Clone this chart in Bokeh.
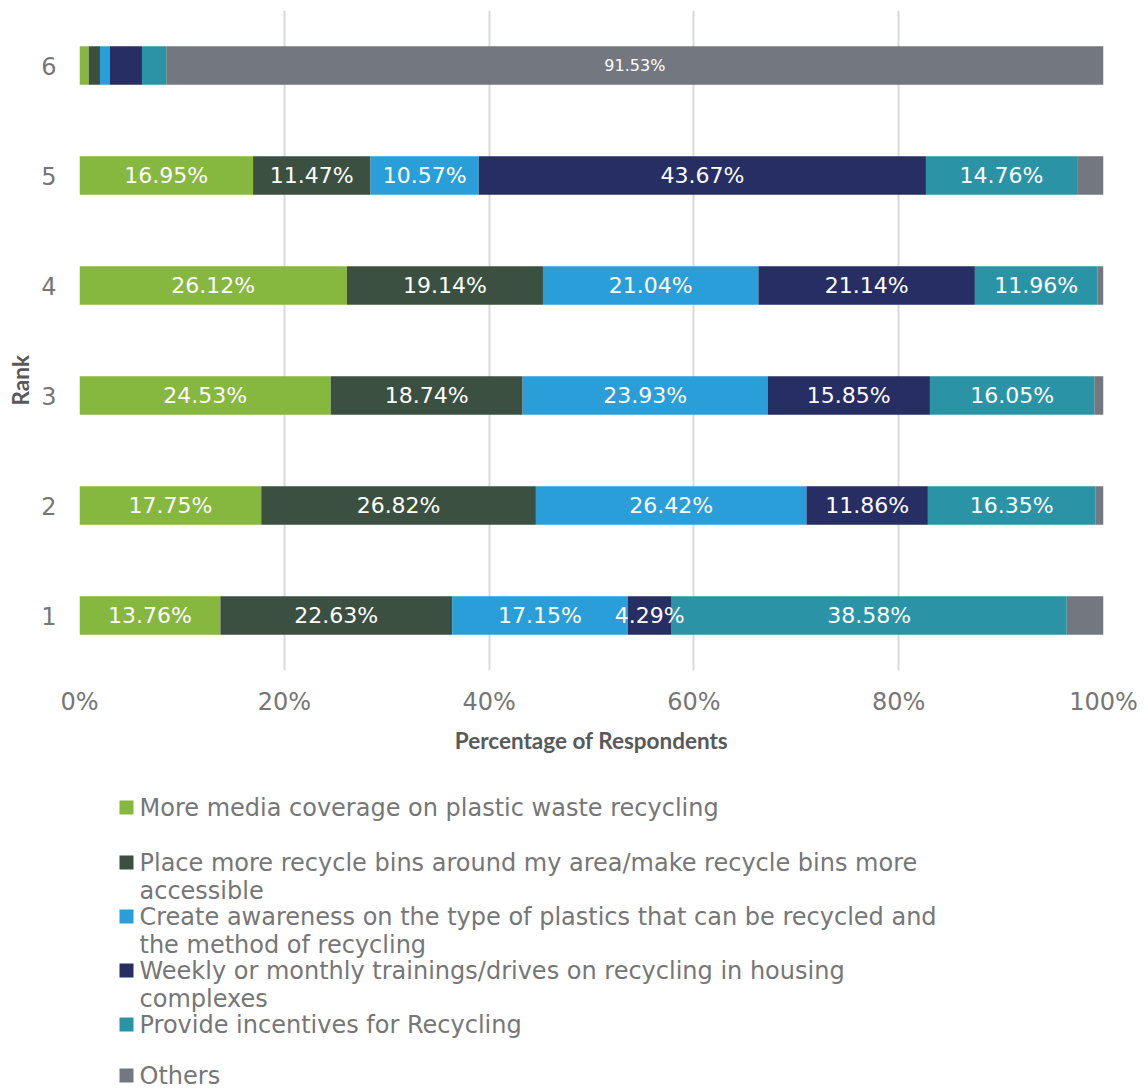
import numpy as np
from bokeh.plotting import figure
from bokeh.models import ColumnDataSource, FixedTicker, Range1d, Title
from bokeh.layouts import column
from bokeh.core.properties import value
from bokeh.embed import file_html
from bokeh.resources import INLINE

# ---------------- data ----------------
ranks = [1, 2, 3, 4, 5, 6]
media = [13.76, 17.75, 24.53, 26.12, 16.95, 0.90]
bins = [22.63, 26.82, 18.74, 19.14, 11.47, 1.10]
awareness = [17.15, 26.42, 23.93, 21.04, 10.57, 0.95]
trainings = [4.29, 11.86, 15.85, 21.14, 43.67, 3.15]
incentives = [38.58, 16.35, 16.05, 11.96, 14.76, 2.37]
others = [3.59, 0.80, 0.90, 0.60, 2.58, 91.53]

series_keys = ["media", "bins", "awareness", "trainings", "incentives", "others"]
series_labels = [
    "More media coverage on plastic waste recycling",
    "Place more recycle bins around my area/make recycle bins more\naccessible",
    "Create awareness on the type of plastics that can be recycled and\nthe method of recycling",
    "Weekly or monthly trainings/drives on recycling in housing\ncomplexes",
    "Provide incentives for Recycling",
    "Others",
]
colors = ["#86B73F", "#3B5040", "#2A9ED8", "#272E63", "#2A94A6", "#737880"]
x_ticks = [0, 20, 40, 60, 80, 100]
x_tick_labels = ["0%", "20%", "40%", "60%", "80%", "100%"]

FONT = "DejaVu Sans"
GRAY = "#767676"
TITLE_GRAY = "#595959"

# ---------------- main chart ----------------
data = dict(rank=ranks, media=media, bins=bins, awareness=awareness,
            trainings=trainings, incentives=incentives, others=others)
src = ColumnDataSource(data)

p = figure(width=1145, height=760, frame_width=1024, frame_height=660,
           output_backend="svg", toolbar_location=None,
           x_range=Range1d(0, 100), y_range=Range1d(0.5, 6.5),
           min_border_left=79, min_border_right=42, min_border_top=10,
           min_border_bottom=90)
p.outline_line_color = None
p.background_fill_color = "white"
p.border_fill_color = "white"

p.hbar_stack(series_keys, y="rank", height=0.35, color=colors, source=src,
             line_color=None)

# segment labels
series_vals = [media, bins, awareness, trainings, incentives, others]
lx, ly, lt, ls = [], [], [], []
for i, r in enumerate(ranks):
    left = 0.0
    for vals in series_vals:
        v = vals[i]
        if v >= 4:
            lx.append(left + v / 2)
            ly.append(r)
            lt.append(f"{v:.2f}%")
            ls.append("16px" if v > 80 else "22px")
        left += v
p.text(x="x", y="y", text="t", source=ColumnDataSource(dict(x=lx, y=ly, t=lt, s=ls)),
       text_font=value(FONT), text_font_size="s", text_color="#FFFFFF",
       text_align="center", text_baseline="middle")

# axes
p.xaxis.ticker = FixedTicker(ticks=x_ticks)
p.xaxis.major_label_overrides = {t: l for t, l in zip(x_ticks, x_tick_labels)}
p.yaxis.ticker = FixedTicker(ticks=ranks)
for ax in (p.xaxis, p.yaxis):
    ax.axis_line_color = None
    ax.major_tick_line_color = None
    ax.minor_tick_line_color = None
    ax.major_label_text_font = FONT
    ax.major_label_text_font_size = "24px"
    ax.major_label_text_color = GRAY
    ax.axis_label_text_font = "Lato"
    ax.axis_label_text_font_style = "bold"
    ax.axis_label_text_font_size = "22.5px"
    ax.axis_label_text_color = TITLE_GRAY
p.xaxis.axis_label = "Percentage of Respondents"
p.xaxis.major_label_standoff = 11
p.yaxis.major_label_standoff = 17
p.xaxis.axis_label_standoff = 8

p.add_layout(Title(text="Rank", align="left", offset=265, standoff=9,
                   text_font="Lato", text_font_style="bold",
                   text_font_size="22.5px", text_color=TITLE_GRAY), "left")

p.ygrid.grid_line_color = None
p.xgrid.grid_line_color = "#D9D9D9"
p.xgrid.grid_line_width = 2

# ---------------- legend (separate panel) ----------------
LH = 329
LEFT = 79
leg = figure(width=1145, height=LH, frame_width=1145 - LEFT, frame_height=LH,
             output_backend="svg", toolbar_location=None,
             x_range=Range1d(LEFT, 1145), y_range=Range1d(LH, 0),
             x_axis_location=None, y_axis_location=None, min_border=0,
             min_border_left=LEFT)
leg.outline_line_color = None
leg.grid.visible = False

n = len(series_labels)
row_y = [47, 102, 156, 210, 264, 315]
leg.rect(x=[126] * n, y=row_y, width=14, height=14, color=colors, line_color=None)
leg.text(x=[139] * n, y=[yy - 14 for yy in row_y], text=series_labels,
         text_font=value(FONT), text_font_size="24px", text_color=GRAY,
         text_align="left", text_baseline="top", text_line_height=1.02)

layout = column(p, leg, spacing=0)
open("out.html", "w").write(file_html(layout, INLINE))
